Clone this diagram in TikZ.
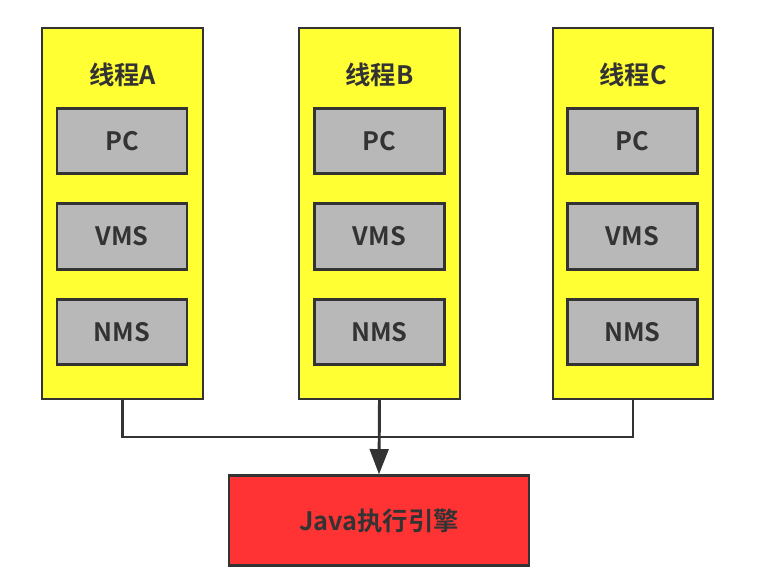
\documentclass[tikz,border=0pt]{standalone}
\usepackage{fontspec}
\setmainfont{Noto Sans CJK SC}[BoldFont={Noto Sans CJK SC Bold}]
\usetikzlibrary{arrows.meta}
\definecolor{edge}{HTML}{333333}
\definecolor{ybox}{HTML}{FFFF33}
\definecolor{gbox}{HTML}{B8B8B8}
\definecolor{rbox}{HTML}{FF3333}
\begin{document}
\begin{tikzpicture}[x=0.75pt,y=-0.75pt,
  every node/.style={font=\fontsize{19}{22}\selectfont\bfseries, text=edge},
  thread/.style={draw=edge, line width=2.2pt, fill=ybox},
  inner/.style={draw=edge, line width=2.2pt, fill=gbox, minimum width=97.5pt, minimum height=49pt, inner sep=0pt},
  engine/.style={draw=edge, line width=2.2pt, fill=rbox, minimum width=225pt, minimum height=67pt, inner sep=0pt},
  conn/.style={draw=edge, line width=2.2pt}]
\useasboundingbox (0,0) rectangle (764,579);
\fill[white] (0,0) rectangle (764,579);
% threads
\draw[thread] (42,28) rectangle (203,399);
\draw[thread] (299,28) rectangle (460,399);
\draw[thread] (553,28) rectangle (713,399);
\coordinate (tA) at (122.5,399);
\coordinate (tB) at (379.5,399);
\coordinate (tC) at (633,399);
\node (lA) at (122.5,75) {线程A};
\node (lB) at (379.5,75) {线程B};
\node (lC) at (633,75) {线程C};
\foreach \n/\x in {A/122,B/379.5,C/632.5}{
  \node[inner] (pc\n) at (\x,141) {PC};
  \node[inner] (vms\n) at (\x,236.5) {VMS};
  \node[inner] (nms\n) at (\x,332) {NMS};
}
\node[engine] (eng) at (379,520.5) {Java执行引擎};
\coordinate (jA) at (122.5,437);
\coordinate (jC) at (633,437);
\draw[conn] (tA) -- (jA) -- (jC) -- (tC);
\draw[conn, -{Triangle[length=19pt,width=14pt]}] (tB) -- (eng.north);
\end{tikzpicture}
\end{document}
